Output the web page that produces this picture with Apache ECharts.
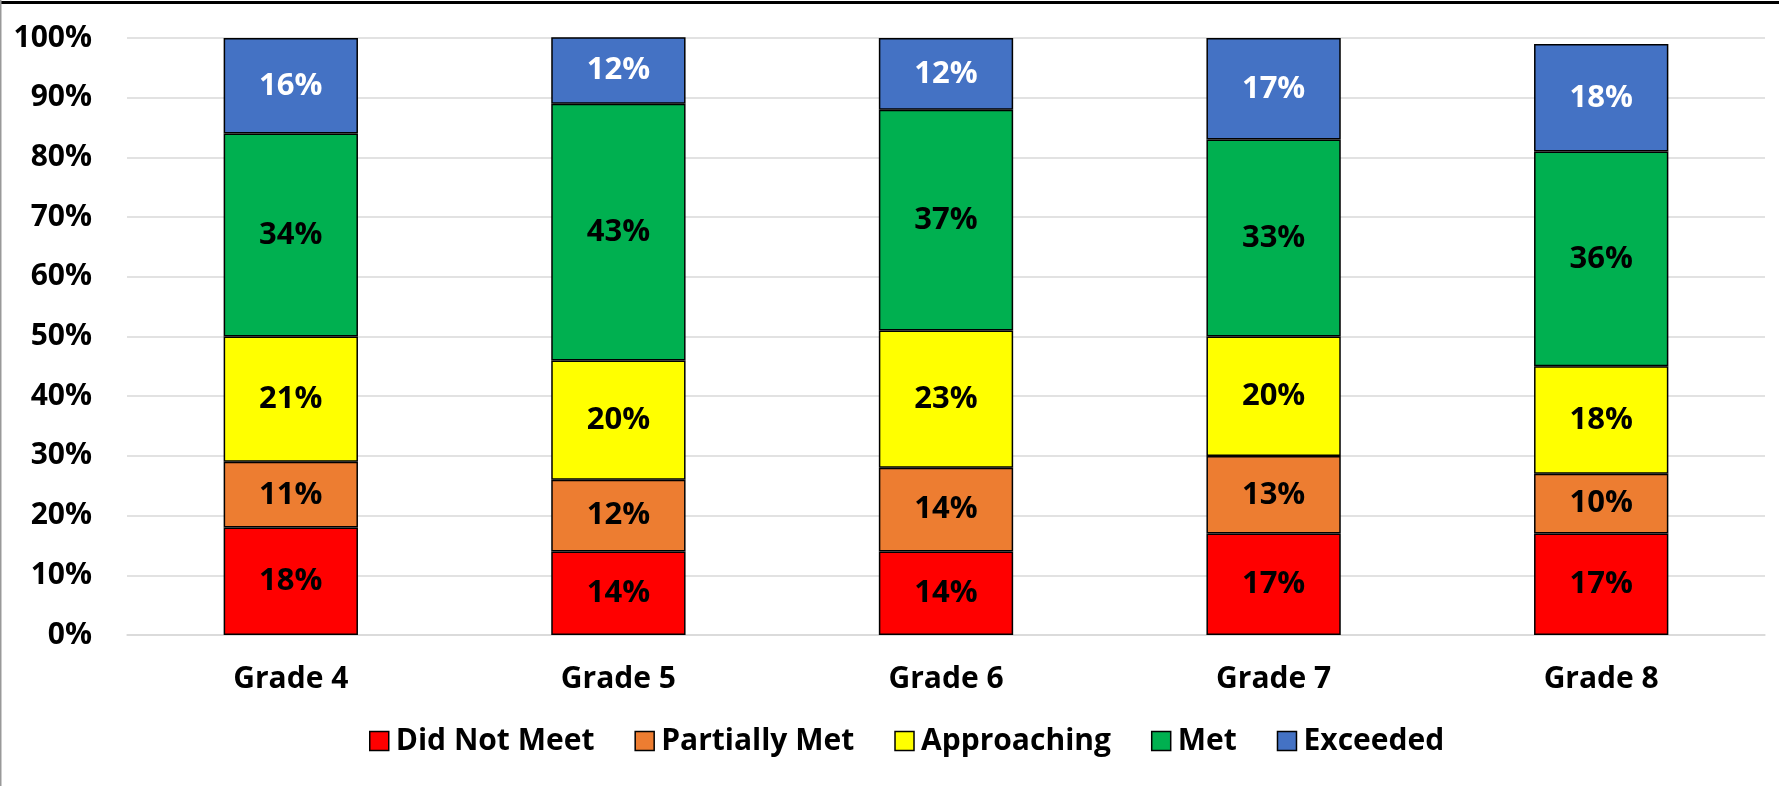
<!DOCTYPE html>
<html>
<head>
<meta charset="utf-8">
<script src="https://cdn.jsdelivr.net/npm/echarts@6/dist/echarts.min.js"></script>
<style>
html,body{margin:0;padding:0;background:#fff;}
#chart{width:1779px;height:786px;}
</style>
</head>
<body>
<div id="chart"></div>
<script>
const categories = ['Grade 4', 'Grade 5', 'Grade 6', 'Grade 7', 'Grade 8'];
const seriesNames = ['Did Not Meet', 'Partially Met', 'Approaching', 'Met', 'Exceeded'];
const didNotMeet = [18, 14, 14, 17, 17];
const partiallyMet = [11, 12, 14, 13, 10];
const approaching = [21, 20, 23, 20, 18];
const met = [34, 43, 37, 33, 36];
const exceeded = [16, 12, 12, 17, 18];
const yTicks = [0, 10, 20, 30, 40, 50, 60, 70, 80, 90, 100];

const colors = ['#FF0000', '#ED7D31', '#FFFF00', '#00B050', '#4472C4'];
const labelColors = ['#000', '#000', '#000', '#000', '#fff'];
const allData = [didNotMeet, partiallyMet, approaching, met, exceeded];
const FONT = '"Open Sans", "Noto Sans", sans-serif';

const chart = echarts.init(document.getElementById('chart'));
chart.setOption({
  backgroundColor: '#fff',
  animation: false,
  grid: {left: 127, right: 14, top: 38, bottom: 151, containLabel: false},
  legend: {
    bottom: 25,
    left: 364,
    itemWidth: 19,
    itemHeight: 19,
    itemGap: 40,
    icon: 'rect',
    textStyle: {fontFamily: FONT, fontWeight: 'bold', fontSize: 30, color: '#000', padding: [0, 0, 0, 2]},
    data: seriesNames.map((n, i) => ({name: n, itemStyle: {color: colors[i], borderColor: '#000', borderWidth: 1.5}}))
  },
  xAxis: {
    type: 'category',
    data: categories,
    axisLine: {show: true, lineStyle: {color: '#D9D9D9', width: 1.5}},
    axisTick: {show: false},
    axisLabel: {fontFamily: FONT, fontWeight: 'bold', fontSize: 30, color: '#000', margin: 29}
  },
  yAxis: {
    type: 'value',
    min: yTicks[0],
    max: yTicks[yTicks.length - 1],
    interval: 10,
    axisLine: {show: false},
    axisTick: {show: false},
    splitLine: {lineStyle: {color: '#D9D9D9', width: 1.5}},
    axisLabel: {fontFamily: FONT, fontWeight: 'bold', fontSize: 30, color: '#000', margin: 35, formatter: '{value}%'}
  },
  series: seriesNames.map((n, i) => ({
    name: n,
    type: 'bar',
    stack: 'total',
    barWidth: '41%',
    clip: true,
    data: allData[i],
    itemStyle: {color: colors[i], borderColor: '#000', borderWidth: 1.5},
    label: {
      show: true,
      position: 'inside',
      formatter: '{c}%',
      fontFamily: FONT,
      fontWeight: 'bold',
      fontSize: 31,
      color: labelColors[i]
    }
  })),
  graphic: [
    {type: 'line', shape: {x1: 0, y1: 2.5, x2: 1779, y2: 2.5}, style: {stroke: '#000', lineWidth: 3}},
    {type: 'line', shape: {x1: 0.75, y1: 0, x2: 0.75, y2: 786}, style: {stroke: '#999', lineWidth: 1.5}}
  ]
});
</script>
</body>
</html>
